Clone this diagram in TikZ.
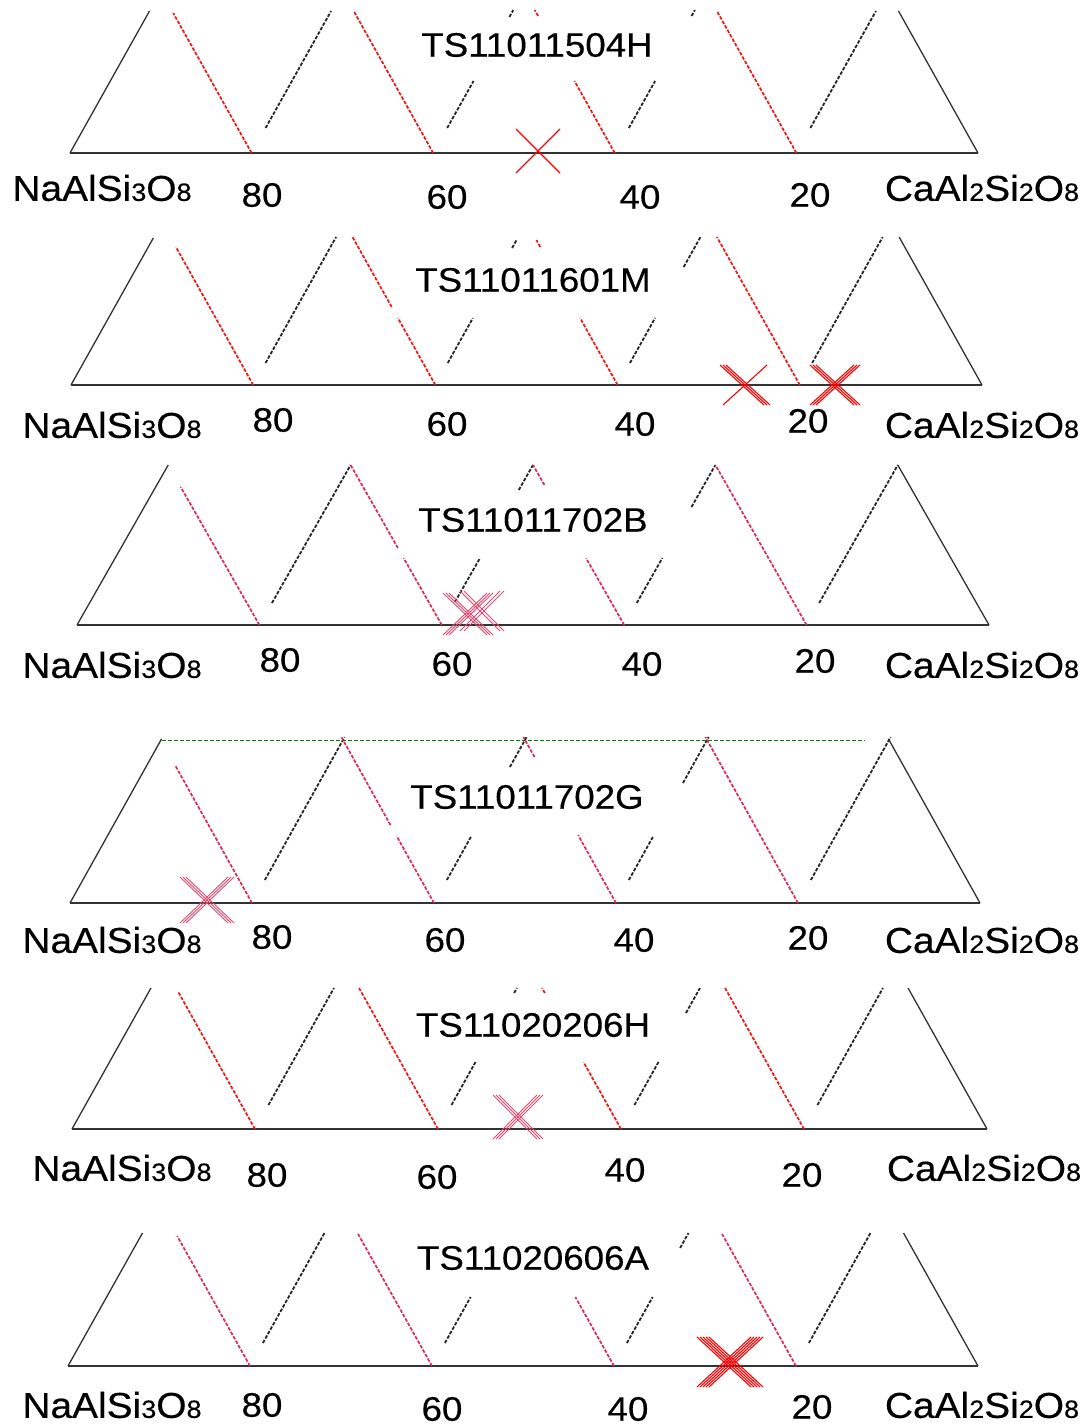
\documentclass[tikz,border=0pt]{standalone}
\usepackage{fontspec}
\setmainfont[FakeStretch=1.08,FakeBold=0.35]{Liberation Sans}
\definecolor{redA}{RGB}{245,20,20}
\definecolor{redB}{RGB}{225,40,85}
\newcommand\smdig[1]{{\fontsize{25}{25}\selectfont #1}}
\newcommand\NaF{NaAlSi\smdig{3}O\smdig{8}}
\newcommand\CaF{CaAl\smdig{2}Si\smdig{2}O\smdig{8}}
\newcommand\PYB{0}
\newcommand\PSL{0.56}
\newcommand\sg[5]{\draw[#1] ({#2+#3*\PSL*#4},{\PYB-#4}) -- ({#2+#3*\PSL*#5},{\PYB-#5});}
\newcommand\xcross[7]{%
  \foreach \o in {#6}{\draw[#5] ({#1-#3+\o},{#2-#4}) -- ({#1+#3+\o},{#2+#4});}
  \foreach \o in {#7}{\draw[#5] ({#1-#3+\o},{#2+#4}) -- ({#1+#3+\o},{#2-#4});}}
\begin{document}
\begin{tikzpicture}[x=1pt,y=-1pt,
  tri/.style={line width=1.3pt, color=black!80},
  rdA/.style={line width=1.7pt, color=redA, dash pattern=on 3.5pt off 1.6pt},
  rdB/.style={line width=1.7pt, color=redB, dash pattern=on 3.5pt off 1.6pt},
  bk/.style={line width=1.8pt, color=black!85, dash pattern=on 3.5pt off 1.6pt},
  gr/.style={line width=1pt, color=green!50!black, dash pattern=on 4pt off 2pt},
  crA/.style={line width=1.1pt, color=red},
  crB/.style={line width=0.9pt, color=redB!85},
  lbl/.style={inner sep=0pt, font=\fontsize{36}{38}\selectfont, text=black},
  num/.style={inner sep=0pt, font=\fontsize{34}{36}\selectfont, text=black},
  ttl/.style={inner sep=0pt, font=\fontsize{34}{36}\selectfont, text=black}]
\useasboundingbox (0,0) rectangle (1091,1427);
\fill[white] (0,0) rectangle (1091,1427);

% ---------------- Panel 1
\renewcommand\PYB{153}\renewcommand\PSL{0.56}
\draw[tri] (70,153) -- (978,153);
\sg{tri}{70}{1}{0}{142}
\sg{tri}{978}{-1}{0}{142}
\sg{rdA}{251.6}{-1}{0}{140}
\sg{bk}{251.6}{1}{25}{142}
\sg{rdA}{433.2}{-1}{0}{142}
\sg{bk}{433.2}{1}{25}{72}
\sg{bk}{433.2}{1}{136}{143}
\sg{rdA}{614.8}{-1}{0}{72}
\sg{rdA}{614.8}{-1}{137}{143}
\sg{bk}{614.8}{1}{25}{72}
\sg{bk}{614.8}{1}{137}{143}
\sg{rdA}{796.4}{-1}{0}{142}
\sg{bk}{796.4}{1}{25}{142}
\xcross{538}{151}{22}{22}{crA}{0}{0}
\node[ttl] (p1t) at (537,45) {TS11011504H};
\node[lbl] (p1na) at (102,188) {\NaF};
\node[num] (p1a) at (262,195) {80};
\node[num] (p1b) at (447,197) {60};
\node[num] (p1c) at (640,197) {40};
\node[num] (p1d) at (810,195) {20};
\node[lbl] (p1ca) at (982,188) {\CaF};

% ---------------- Panel 2
\renewcommand\PYB{385}\renewcommand\PSL{0.56}
\draw[tri] (71,385) -- (982,385);
\sg{tri}{71}{1}{0}{147}
\sg{tri}{982}{-1}{0}{148}
\sg{rdA}{253.2}{-1}{0}{138}
\sg{bk}{253.2}{1}{22}{148}
\sg{rdA}{435.4}{-1}{0}{67}
\sg{rdA}{435.4}{-1}{78}{148}
\sg{bk}{435.4}{1}{22}{67}
\sg{bk}{435.4}{1}{137}{145}
\sg{rdA}{617.6}{-1}{0}{67}
\sg{rdA}{617.6}{-1}{138}{145}
\sg{bk}{617.6}{1}{22}{67}
\sg{bk}{617.6}{1}{118}{148}
\sg{rdA}{799.8}{-1}{0}{148}
\sg{bk}{799.8}{1}{22}{148}
\xcross{745}{385}{22}{20}{crA}{-3,0,3}{0}
\xcross{835}{385}{22}{20}{crA}{-3,0,3}{-3,0,3}
\node[ttl] (p2t) at (533,280) {TS11011601M};
\node[lbl] (p2na) at (112,425) {\NaF};
\node[num] (p2a) at (273,420) {80};
\node[num] (p2b) at (447,424) {60};
\node[num] (p2c) at (635,424) {40};
\node[num] (p2d) at (808,421) {20};
\node[lbl] (p2ca) at (982,425) {\CaF};

% ---------------- Panel 3
\renewcommand\PYB{625}\renewcommand\PSL{0.57}
\draw[tri] (77,625) -- (989,625);
\sg{tri}{77}{1}{0}{160}
\sg{tri}{989}{-1}{0}{160}
\sg{rdB}{259.4}{-1}{0}{138}
\sg{bk}{259.4}{1}{22}{160}
\sg{rdB}{441.8}{-1}{0}{67}
\sg{rdB}{441.8}{-1}{77}{160}
\sg{bk}{441.8}{1}{23}{67}
\sg{bk}{441.8}{1}{135}{160}
\sg{rdB}{624.2}{-1}{0}{67}
\sg{rdB}{624.2}{-1}{140}{160}
\sg{bk}{624.2}{1}{22}{67}
\sg{bk}{624.2}{1}{118}{160}
\sg{rdB}{806.6}{-1}{0}{160}
\sg{bk}{806.6}{1}{22}{160}
\xcross{468}{614}{22}{21}{crB}{-3,0,3}{-3,0,3}
\xcross{482}{611}{20}{20}{crB}{-2,2}{-2,2}
\node[ttl] (p3t) at (533,520) {TS11011702B};
\node[lbl] (p3na) at (112,665) {\NaF};
\node[num] (p3a) at (280,660) {80};
\node[num] (p3b) at (452,664) {60};
\node[num] (p3c) at (642,664) {40};
\node[num] (p3d) at (815,661) {20};
\node[lbl] (p3ca) at (982,665) {\CaF};

% ---------------- Panel 4
\renewcommand\PYB{903}\renewcommand\PSL{0.558}
\draw[gr] (162,740) -- (865,740);
\draw[tri] (70,903) -- (980,903);
\sg{tri}{70}{1}{0}{164}
\sg{tri}{980}{-1}{0}{164}
\sg{rdB}{252}{-1}{0}{138}
\sg{bk}{252}{1}{23}{166}
\sg{rdB}{434}{-1}{0}{67}
\sg{rdB}{434}{-1}{78}{166}
\sg{bk}{434}{1}{23}{67}
\sg{bk}{434}{1}{136}{166}
\sg{rdB}{616}{-1}{0}{68}
\sg{rdB}{616}{-1}{146}{166}
\sg{bk}{616}{1}{23}{66}
\sg{bk}{616}{1}{120}{166}
\sg{rdB}{798}{-1}{0}{166}
\sg{bk}{798}{1}{23}{166}
\xcross{207}{900}{24}{23}{crB}{-3,0,3}{-3,0,3}
\node[ttl] (p4t) at (527,797) {TS11011702G};
\node[lbl] (p4na) at (112,940) {\NaF};
\node[num] (p4a) at (272,937) {80};
\node[num] (p4b) at (445,940) {60};
\node[num] (p4c) at (634,940) {40};
\node[num] (p4d) at (808,938) {20};
\node[lbl] (p4ca) at (982,940) {\CaF};

% ---------------- Panel 5
\renewcommand\PYB{1129}\renewcommand\PSL{0.56}
\draw[tri] (72,1129) -- (987,1129);
\sg{tri}{72}{1}{0}{141}
\sg{tri}{987}{-1}{0}{141}
\sg{rdA}{255}{-1}{0}{137}
\sg{bk}{255}{1}{24}{141}
\sg{rdA}{438}{-1}{0}{141}
\sg{bk}{438}{1}{24}{67}
\sg{bk}{438}{1}{136}{141}
\sg{rdA}{621}{-1}{0}{67}
\sg{rdA}{621}{-1}{136}{141}
\sg{bk}{621}{1}{24}{67}
\sg{bk}{621}{1}{116}{141}
\sg{rdA}{804}{-1}{0}{141}
\sg{bk}{804}{1}{24}{141}
\xcross{518}{1117}{22}{22}{crB}{-3,0,3}{-3,0,3}
\node[ttl] (p5t) at (533,1025) {TS11020206H};
\node[lbl] (p5na) at (122,1168) {\NaF};
\node[num] (p5a) at (267,1175) {80};
\node[num] (p5b) at (437,1177) {60};
\node[num] (p5c) at (625,1170) {40};
\node[num] (p5d) at (802,1175) {20};
\node[lbl] (p5ca) at (984,1168) {\CaF};

% ---------------- Panel 6
\renewcommand\PYB{1366}\renewcommand\PSL{0.56}
\draw[tri] (68,1366) -- (978,1366);
\sg{tri}{68}{1}{0}{133}
\sg{tri}{978}{-1}{0}{133}
\sg{rdB}{250}{-1}{0}{130}
\sg{bk}{250}{1}{23}{133}
\sg{rdB}{432}{-1}{0}{133}
\sg{bk}{432}{1}{23}{69}
\sg{rdB}{614}{-1}{0}{69}
\sg{bk}{614}{1}{23}{69}
\sg{bk}{614}{1}{118}{133}
\sg{rdB}{796}{-1}{0}{133}
\sg{bk}{796}{1}{23}{133}
\xcross{730}{1362}{27}{25}{crA}{-6,-3,0,3,6}{-6,-3,0,3,6}
\node[ttl] (p6t) at (533,1258) {TS11020606A};
\node[lbl] (p6na) at (112,1405) {\NaF};
\node[num] (p6a) at (262,1405) {80};
\node[num] (p6b) at (442,1409) {60};
\node[num] (p6c) at (628,1409) {40};
\node[num] (p6d) at (812,1407) {20};
\node[lbl] (p6ca) at (982,1405) {\CaF};
\end{tikzpicture}
\end{document}
